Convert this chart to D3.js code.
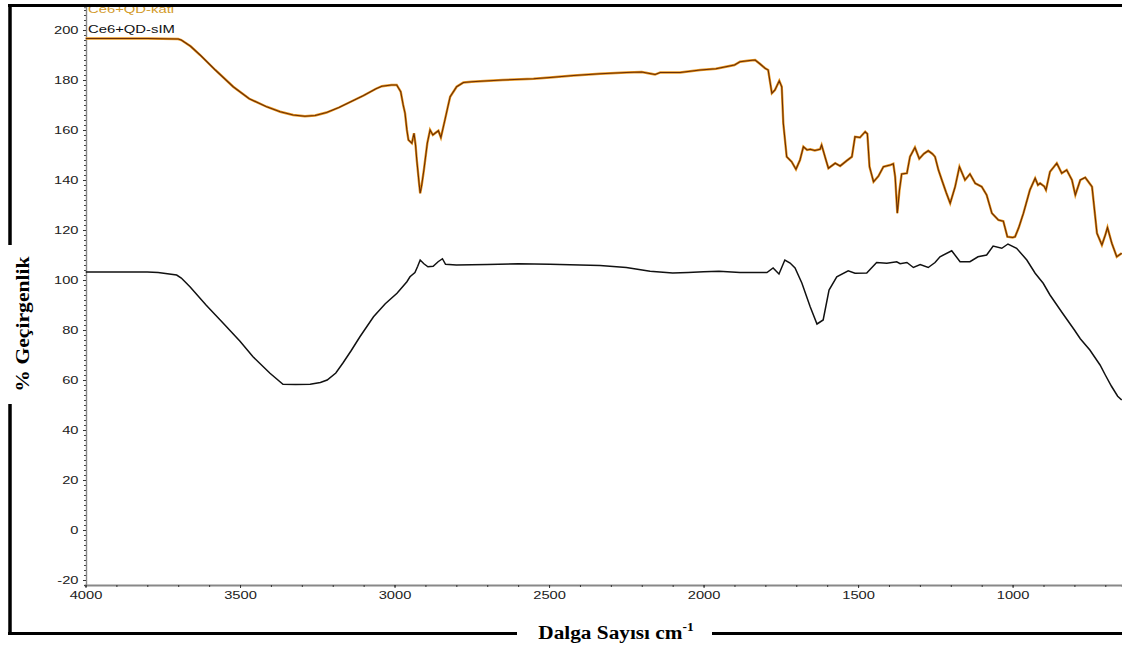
<!DOCTYPE html>
<html>
<head>
<meta charset="utf-8">
<script src="https://cdn.jsdelivr.net/npm/d3@7"></script>
<style>
  html, body { margin: 0; padding: 0; background: #fff; }
  svg { display: block; }
</style>
</head>
<body>
<svg id="chart" width="1122" height="650"></svg>
<script>
// FTIR spectra: transmittance (%) against wavenumber (cm-1)
const seriesNames = ["Ce6+QD-kati", "Ce6+QD-sIM"];

const waveKati = [4000, 3800, 3700, 3690, 3660, 3629, 3580, 3522, 3470, 3414, 3370, 3328, 3290, 3257, 3220, 3180, 3130, 3100, 3060, 3041, 3010, 2993, 2980, 2972, 2966, 2960, 2955, 2944, 2937, 2932, 2928, 2920, 2917, 2912, 2905, 2894, 2885, 2876, 2869, 2858, 2850, 2837, 2828, 2820, 2799, 2777, 2750, 2723, 2650, 2550, 2497, 2420, 2335, 2250, 2200, 2170, 2157, 2140, 2076, 2011, 1960, 1900, 1882, 1850, 1833, 1817, 1801, 1791, 1779, 1769, 1755, 1747, 1742, 1731, 1715, 1701, 1688, 1677, 1665, 1655, 1640, 1623, 1618, 1604, 1596, 1574, 1558, 1537, 1520, 1510, 1494, 1477, 1470, 1463, 1450, 1434, 1418, 1396, 1386, 1380, 1373, 1366, 1359, 1342, 1332, 1316, 1302, 1287, 1273, 1260, 1251, 1240, 1229, 1215, 1202, 1186, 1172, 1154, 1138, 1121, 1100, 1084, 1067, 1046, 1030, 1017, 1000, 992, 980, 965, 944, 927, 918, 911, 898, 892, 879, 857, 841, 825, 808, 797, 781, 765, 743, 727, 711, 700, 693, 679, 663, 647];
const transKati = [196.6, 196.6, 196.4, 196, 193.5, 190, 184, 177.3, 172.5, 169.3, 167.3, 166, 165.5, 165.8, 167, 169, 172, 173.8, 176.5, 177.5, 178, 178, 175.3, 170, 166.7, 160, 156, 154.7, 158.7, 154, 148, 138, 134.7, 138, 144, 154.7, 160, 158, 158.7, 159.7, 157, 164, 169, 173.3, 177.3, 179, 179.3, 179.5, 180, 180.5, 181, 181.8, 182.5, 183, 183.2, 182.5, 182.2, 183, 183, 184, 184.5, 186, 187.3, 187.8, 188, 186.4, 184.7, 184, 174.7, 176, 179.7, 177.3, 162.7, 149.3, 147.3, 144.3, 148, 153.3, 152, 152.3, 151.8, 152.3, 154, 148, 144.7, 146.7, 145.6, 147.7, 149.3, 157.3, 157, 159.3, 158.5, 145.3, 139.3, 141.6, 145.3, 146, 146.5, 141.3, 126.7, 136, 142.4, 142.7, 149.3, 153, 148.5, 150.5, 151.7, 150.5, 149.3, 144, 140, 135, 130.7, 137.3, 145.3, 140, 142.4, 138.7, 137.3, 134, 126.7, 124, 123.5, 117.3, 117, 117.3, 121, 126.7, 136, 140.7, 138, 138.7, 137.5, 136, 143.3, 146.7, 142.7, 144, 140, 134, 140, 141, 137.3, 118.7, 114, 118, 121, 114.7, 109.3, 110.7];

const waveSim = [4000, 3800, 3765, 3705, 3690, 3662, 3610, 3555, 3500, 3458, 3403, 3361, 3320, 3273, 3240, 3218, 3190, 3167, 3140, 3112, 3068, 3030, 2992, 2960, 2950, 2934, 2925, 2917, 2905, 2892, 2875, 2859, 2845, 2835, 2800, 2700, 2600, 2497, 2400, 2335, 2250, 2173, 2100, 2050, 2000, 1950, 1882, 1795, 1775, 1756, 1737, 1720, 1704, 1682, 1655, 1633, 1613, 1594, 1569, 1532, 1510, 1472, 1440, 1407, 1375, 1364, 1342, 1321, 1299, 1273, 1251, 1235, 1197, 1170, 1138, 1112, 1084, 1063, 1035, 1015, 987, 954, 927, 901, 879, 840, 800, 781, 750, 717, 700, 680, 660, 647];
const transSim = [103.2, 103.2, 103, 102, 100.8, 97.3, 90, 82.8, 75.5, 69.3, 62.7, 58.3, 58.2, 58.3, 59, 60, 62.8, 66.8, 71.8, 77.3, 85.3, 90.5, 94.7, 99.3, 101.3, 103, 105.5, 108, 106.5, 105.3, 105.5, 107.3, 108.5, 106.3, 106, 106.2, 106.5, 106.3, 106, 105.8, 105, 103.5, 102.8, 103, 103.3, 103.5, 103, 103, 104.8, 102.4, 108, 106.8, 104.8, 98.8, 89.3, 82.4, 84, 96, 101.3, 103.7, 102.7, 102.8, 107, 106.7, 107.3, 106.5, 107, 105, 106.2, 105, 107, 109.3, 111.7, 107.3, 107.3, 109.3, 110, 113.6, 112.7, 114.4, 112.7, 108, 102.7, 98.7, 94, 87, 80, 76.5, 72, 66, 62, 57.5, 53.5, 52];

const xTickValues = [4000, 3500, 3000, 2500, 2000, 1500, 1000];
const yTickValues = [-20, 0, 20, 40, 60, 80, 100, 120, 140, 160, 180, 200];

const svg = d3.select("#chart");
const W = 1122, H = 650;
svg.append("rect").attr("width", W).attr("height", H).attr("fill", "#fff");

const x = d3.scaleLinear().domain([4000, 646]).range([85.5, 1122]);
const y = d3.scaleLinear().domain([-22, 209.2]).range([585, 7]);

const SX = 1.4; // horizontal stretch of the small sans labels
const sansFont = "'Liberation Sans', Arial, sans-serif";
const serifFont = "'Liberation Serif', 'Times New Roman', serif";
const plainNumber = d => String(d);

// clip region for the traces
svg.append("clipPath").attr("id", "plotClip")
  .append("rect").attr("x", 85.5).attr("y", 7).attr("width", W - 85.5).attr("height", 578);

// y axis with minor ticks
const yMinor = d3.range(-22, 209, 2);
const yAxisG = svg.append("g").attr("transform", "translate(86,0)")
  .call(d3.axisLeft(y).tickValues(yMinor).tickSize(2).tickFormat(""));
yAxisG.select(".domain").attr("stroke", "#888").attr("stroke-width", 1.4);
yAxisG.selectAll(".tick line").attr("stroke", "#444").attr("stroke-width", 1);

const yMajorG = svg.append("g").attr("transform", "translate(86,0)")
  .call(d3.axisLeft(y).tickValues(yTickValues).tickSize(3).tickPadding(4).tickFormat(plainNumber));
yMajorG.select(".domain").remove();
yMajorG.selectAll(".tick line").attr("stroke", "#333");
yMajorG.selectAll(".tick text")
  .attr("font-family", sansFont).attr("font-size", 10.5).attr("fill", "#222")
  .attr("x", -7.5 / SX)
  .attr("transform", `scale(${SX},1)`);

// x axis with minor ticks every 100
const xMinor = d3.range(4000, 640, -100);
const xAxisG = svg.append("g").attr("transform", "translate(0,585)")
  .call(d3.axisBottom(x).tickValues(xMinor).tickSize(2).tickFormat(""));
xAxisG.select(".domain").attr("stroke", "#888").attr("stroke-width", 2);
xAxisG.selectAll(".tick line").attr("stroke", "#333");

const xMajorG = svg.append("g").attr("transform", "translate(0,585)")
  .call(d3.axisBottom(x).tickValues(xTickValues).tickSize(3).tickPadding(4).tickFormat(plainNumber));
xMajorG.select(".domain").remove();
xMajorG.selectAll(".tick line").attr("stroke", "#333");
xMajorG.selectAll(".tick text")
  .attr("font-family", sansFont).attr("font-size", 10.5).attr("fill", "#222")
  .attr("transform", `scale(${SX},1)`);

// traces
const line = d3.line().x(d => x(d[0])).y(d => y(d[1]));
const kati = d3.zip(waveKati, transKati);
const sim = d3.zip(waveSim, transSim);
const traces = svg.append("g").attr("clip-path", "url(#plotClip)");
traces.append("path").datum(sim).attr("d", line)
  .attr("fill", "none").attr("stroke", "#111").attr("stroke-width", 1.5);
traces.append("path").datum(kati).attr("d", line)
  .attr("fill", "none").attr("stroke", "#e8961e").attr("stroke-width", 2.4);
traces.append("path").datum(kati).attr("d", line)
  .attr("fill", "none").attr("stroke", "#6b2e05").attr("stroke-width", 1.1);

// legend
const legendColors = ["#d39a2a", "#111"];
const legendBase = [13.5, 33];
svg.append("g").selectAll("text").data(seriesNames).join("text")
  .attr("x", 88 / SX).attr("y", (d, i) => legendBase[i])
  .attr("transform", `scale(${SX},1)`)
  .attr("font-family", sansFont).attr("font-size", 10.6)
  .attr("fill", (d, i) => legendColors[i])
  .text(d => d);

// frame around the figure
const frame = svg.append("g").attr("stroke", "#000").attr("fill", "none");
frame.append("line").attr("x1", 8).attr("x2", W).attr("y1", 5.5).attr("y2", 5.5).attr("stroke-width", 3);
frame.append("line").attr("x1", 10).attr("x2", 10).attr("y1", 4).attr("y2", 245).attr("stroke-width", 3.5);
frame.append("line").attr("x1", 10).attr("x2", 10).attr("y1", 404).attr("y2", 635).attr("stroke-width", 3.5);
frame.append("line").attr("x1", 8).attr("x2", 517).attr("y1", 633.5).attr("y2", 633.5).attr("stroke-width", 3);
frame.append("line").attr("x1", 712).attr("x2", W).attr("y1", 633.5).attr("y2", 633.5).attr("stroke-width", 3);

// axis titles
svg.append("text")
  .attr("transform", "translate(29,324) rotate(-90) scale(1.14,1)")
  .attr("text-anchor", "middle")
  .attr("font-family", serifFont).attr("font-weight", "bold").attr("font-size", 19)
  .attr("fill", "#000")
  .text("% Geçirgenlik");

const xTitle = svg.append("text")
  .attr("transform", "translate(616,639) scale(1.12,1)")
  .attr("text-anchor", "middle")
  .attr("font-family", serifFont).attr("font-weight", "bold").attr("font-size", 19)
  .attr("fill", "#000");
xTitle.append("tspan").text("Dalga Sayısı cm");
xTitle.append("tspan").attr("font-size", 12).attr("dy", -8).text("-1");
</script>
</body>
</html>
